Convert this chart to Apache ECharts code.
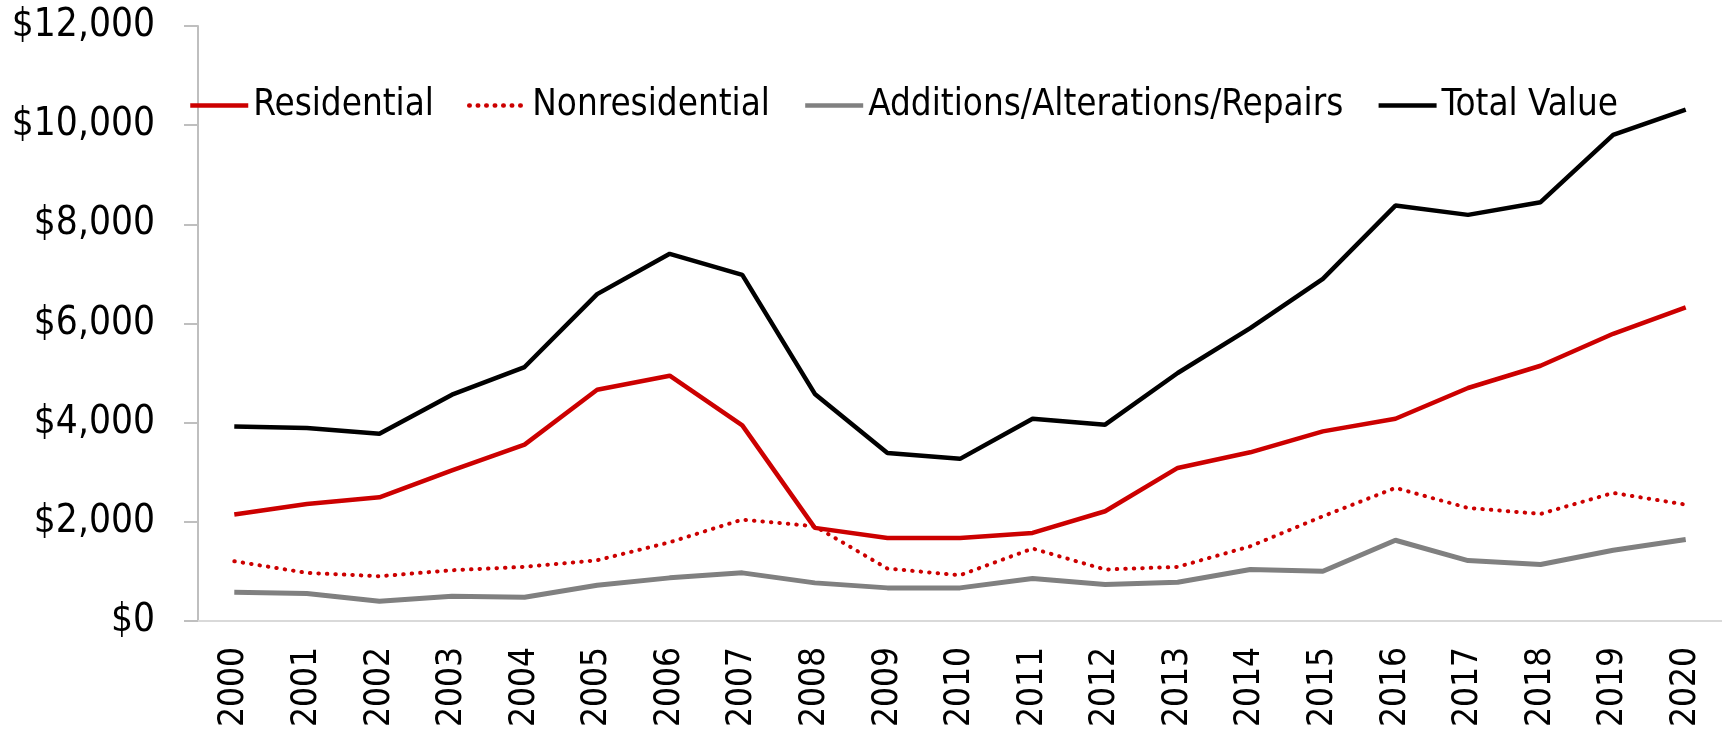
<!DOCTYPE html>
<html>
<head>
<meta charset="utf-8">
<script src="https://cdn.jsdelivr.net/npm/echarts@6/dist/echarts.min.js"></script>
<style>
  html, body { margin: 0; padding: 0; background: #fff; }
  #chart { width: 1722px; height: 731px; }
</style>
</head>
<body>
<div id="chart"></div>
<script>
const years = ['2000', '2001', '2002', '2003', '2004', '2005', '2006', '2007', '2008', '2009', '2010',
  '2011', '2012', '2013', '2014', '2015', '2016', '2017', '2018', '2019', '2020']

const residential = [2146, 2361, 2495, 3039, 3557, 4665, 4947, 3946, 1878, 1676, 1676,
  1777, 2213, 3087, 3402, 3825, 4080, 4699, 5148, 5793, 6323]
const nonresidential = [1205, 971, 903, 1024, 1092, 1225, 1588, 2045, 1910, 1058, 923,
  1461, 1038, 1092, 1507, 2112, 2684, 2281, 2160, 2583, 2347]
const additions = [580, 554, 400, 500, 480, 721, 870, 971, 769, 668, 668,
  856, 735, 782, 1038, 1004, 1628, 1219, 1138, 1427, 1642]
const totalValue = [3925, 3893, 3778, 4564, 5122, 6593, 7405, 6982, 4580, 3389, 3270,
  4080, 3960, 5001, 5907, 6901, 8378, 8191, 8447, 9803, 10311]

const FONT = "'Liberation Sans Narrow', 'DejaVu Sans Condensed', 'Liberation Sans', sans-serif"

const chart = echarts.init(document.getElementById('chart'))

const lineSeries = (name, data, color, width, type) => ({
  name,
  type: 'line',
  data,
  symbol: 'none',
  smooth: false,
  lineStyle: { color, width, type: type || 'solid', cap: type ? 'round' : 'butt' },
  itemStyle: { color }
})

chart.setOption({
  animation: false,
  textStyle: { fontFamily: FONT },
  grid: { left: 198, right: 0, top: 26, bottom: 110, containLabel: false, outerBoundsMode: 'none' },
  legend: {
    left: 183,
    top: 82,
    itemWidth: 58,
    itemHeight: 14,
    itemGap: 33,
    itemStyle: { opacity: 0 },
    lineStyle: { width: 4.5 },
    textStyle: { fontFamily: FONT, fontSize: 36.5, color: '#000' },
    data: ['Residential', 'Nonresidential', 'Additions/Alterations/Repairs', 'Total Value']
  },
  xAxis: {
    type: 'category',
    data: years,
    boundaryGap: true,
    axisLine: { lineStyle: { color: '#D9D9D9', width: 2 } },
    axisTick: { show: false },
    axisLabel: { rotate: 90, margin: 26, fontSize: 35, color: '#000', fontFamily: FONT }
  },
  yAxis: {
    type: 'value',
    min: 0,
    max: 12000,
    interval: 2000,
    splitLine: { show: false },
    axisLine: { show: true, lineStyle: { color: '#BFBFBF', width: 2 } },
    axisTick: { show: true, length: 14, lineStyle: { color: '#BFBFBF', width: 2 } },
    axisLabel: {
      margin: 43,
      fontSize: 38.5,
      color: '#000',
      fontFamily: FONT,
      formatter: v => '$' + v.toLocaleString('en-US')
    }
  },
  series: [
    lineSeries('Residential', residential, '#CC0000', 4.5),
    lineSeries('Nonresidential', nonresidential, '#CC0000', 4, [0.5, 8]),
    lineSeries('Additions/Alterations/Repairs', additions, '#808080', 5),
    lineSeries('Total Value', totalValue, '#000000', 4.5)
  ]
})

window.addEventListener('resize', () => chart.resize())
</script>
</body>
</html>
